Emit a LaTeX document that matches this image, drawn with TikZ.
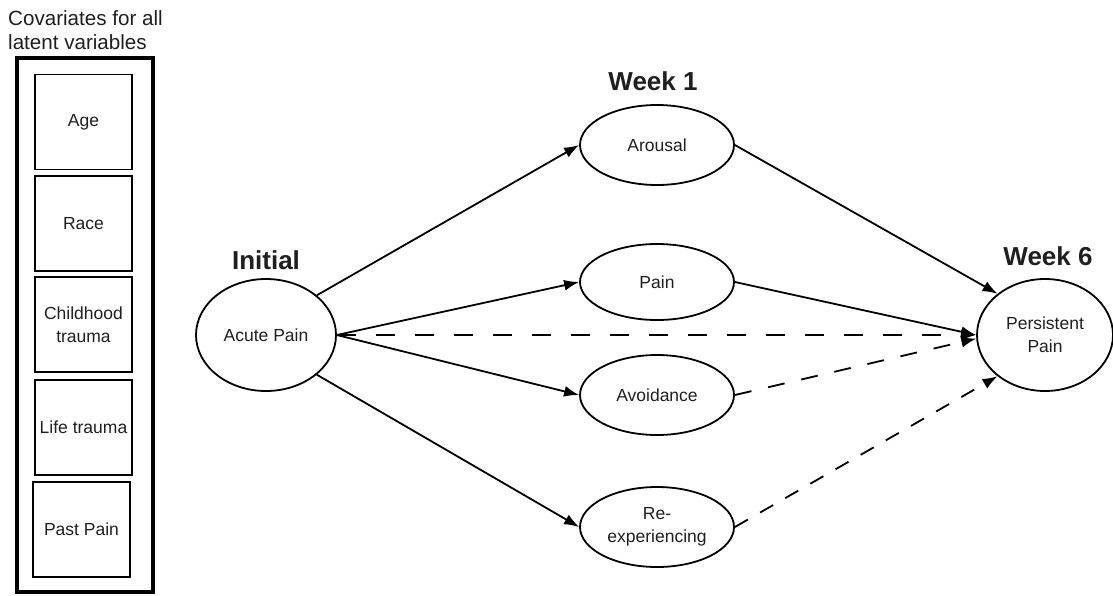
\documentclass[tikz,border=0pt]{standalone}
\usepackage{fontspec}
\setmainfont{Liberation Sans}
\usetikzlibrary{arrows.meta,shapes.geometric}
\begin{document}
\begin{tikzpicture}[x=1pt,y=-1pt,
  every node/.style={inner sep=0pt, text=black!88},
  txt/.style={font=\fontsize{17.5}{23}\selectfont, align=center},
  head/.style={font=\fontsize{26}{30}\selectfont\bfseries},
  covbox/.style={draw, line width=1.8pt, minimum width=97pt, minimum height=95pt, txt},
  latent/.style={draw, ellipse, line width=1.8pt, txt},
  wk/.style={latent, minimum width=154pt, minimum height=80pt},
  big/.style={latent, minimum width=140pt, minimum height=112pt},
  arr/.style={line width=1.8pt, -{Latex[length=15pt,width=11pt]}},
  dA/.style={arr, dash pattern=on 19pt off 20pt},
  dB/.style={arr, dash pattern=on 17pt off 17pt},
  dC/.style={arr, dash pattern=on 15pt off 14pt}]
\useasboundingbox (0,0) rectangle (1113,595);

\node[anchor=north west, align=left, font=\fontsize{20.6}{24}\selectfont] (covlabel) at (8,10) {Covariates for all\\latent variables};
\node[draw, line width=3.5pt, minimum width=136pt, minimum height=534pt] (cov) at (85,325) {};
\node[covbox] (age) at (83.5,122) {Age};
\node[covbox] (race) at (83.5,223.5) {Race};
\node[covbox] (child) at (83.5,324.5) {Childhood\\trauma};
\node[covbox] (life) at (83.5,427.5) {Life trauma};
\node[covbox] (past) at (81.5,529.5) {Past Pain};

\node[big] (acute) at (266,335) {Acute Pain};
\node[wk] (arousal) at (657,145) {Arousal};
\node[latent, minimum width=154pt, minimum height=76pt] (pain) at (657,282) {Pain};
\node[wk] (avoid) at (657,395) {Avoidance};
\node[wk] (reexp) at (657,527) {Re-\\experiencing};
\node[latent, minimum width=136pt, minimum height=112pt] (persist) at (1045,335) {Persistent\\Pain};

\node[head, anchor=base] (initial) at (266,269) {Initial};
\node[head, anchor=base] (week1) at (653,90) {Week 1};
\node[head, anchor=base] (week6) at (1048,265) {Week 6};

\draw[arr] (acute.38) -- (arousal.west);
\draw[arr] (acute.east) -- (pain.west);
\draw[arr] (acute.east) -- (avoid.west);
\draw[arr] (acute.-38) -- (reexp.west);
\draw[arr] (arousal.east) -- (persist.139);
\draw[arr] (pain.east) -- (persist.west);
\draw[dA] (acute.east) -- (persist.west);
\draw[dB] (avoid.east) -- (persist.183);
\draw[dC] (reexp.east) -- (persist.221);
\end{tikzpicture}
\end{document}
